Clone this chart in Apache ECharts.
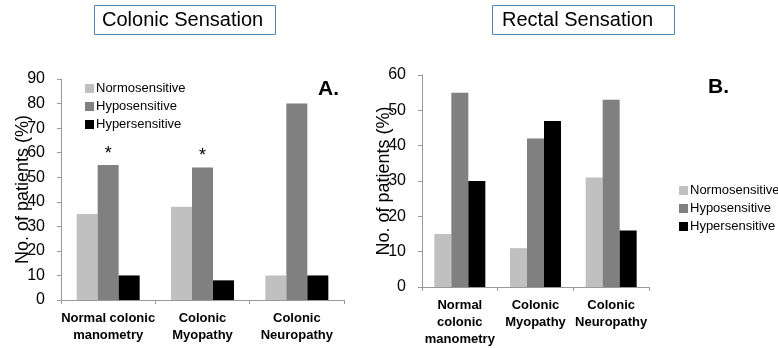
<!DOCTYPE html>
<html>
<head>
<meta charset="utf-8">
<script src="https://cdn.jsdelivr.net/npm/echarts@6/dist/echarts.min.js"></script>
<style>
  html, body { margin: 0; padding: 0; background: #fff; }
  #chart { width: 778px; height: 348px; }
</style>
</head>
<body>
<div id="chart"></div>
<script>
// data
const seriesNames = ['Normosensitive', 'Hyposensitive', 'Hypersensitive']
const colonicCats = ['Normal colonic\nmanometry', 'Colonic\nMyopathy', 'Colonic\nNeuropathy']
const rectalCats = ['Normal\ncolonic\nmanometry', 'Colonic\nMyopathy', 'Colonic\nNeuropathy']
const colonicNormo = [35, 38, 10]
const colonicHypo = [55, 54, 80]
const colonicHyper = [10, 8, 10]
const colonicStars = ['*', '*', '']
const rectalNormo = [15, 11, 31]
const rectalHypo = [55, 42, 53]
const rectalHyper = [30, 47, 16]

const colors = ['#c0c0c0', '#808080', '#000000']
const font = 'Liberation Sans, Arial, sans-serif'

const chart = echarts.init(document.getElementById('chart'))

const yAxisCommon = {
  type: 'value',
  name: 'No. of patients (%)',
  nameLocation: 'middle',
  nameRotate: 90,
  nameMoveOverlap: false,
  nameTextStyle: { fontSize: 18, color: '#000', fontFamily: font },
  axisLine: { show: true, lineStyle: { color: '#999' } },
  axisTick: { show: true, length: 4, lineStyle: { color: '#999' } },
  axisLabel: { fontSize: 16, color: '#000', fontFamily: font, margin: 16 },
  splitLine: { show: false }
}

const xAxisCommon = {
  type: 'category',
  axisLine: { lineStyle: { color: '#999' } },
  axisTick: { show: true, length: 4, lineStyle: { color: '#999' } },
  axisLabel: { fontSize: 13, fontWeight: 'bold', color: '#000', fontFamily: font, lineHeight: 17, margin: 10, interval: 0 }
}

const makeBar = (name, data, color, xi, width, extra) => Object.assign({
  name: name,
  type: 'bar',
  xAxisIndex: xi,
  yAxisIndex: xi,
  data: data,
  barWidth: width,
  barGap: 0,
  itemStyle: { color: color },
  silent: true
}, extra || {})

const option = {
  animation: false,
  title: [
    {
      text: 'Colonic Sensation',
      left: 94, top: 5,
      padding: [5, 13, 5, 8],
      borderColor: '#4f81bd', borderWidth: 1,
      textStyle: { fontSize: 20, fontWeight: 'normal', color: '#000', fontFamily: font }
    },
    {
      text: 'Rectal Sensation',
      left: 492, top: 5,
      padding: [5, 22, 5, 10],
      borderColor: '#4f81bd', borderWidth: 1,
      textStyle: { fontSize: 20, fontWeight: 'normal', color: '#000', fontFamily: font }
    },
    {
      text: 'A.',
      left: 313, top: 74,
      textStyle: { fontSize: 21, fontWeight: 'bold', color: '#000', fontFamily: font }
    },
    {
      text: 'B.',
      left: 703, top: 72,
      textStyle: { fontSize: 21, fontWeight: 'bold', color: '#000', fontFamily: font }
    }
  ],
  legend: [
    {
      data: seriesNames,
      orient: 'vertical',
      left: 80, top: 77,
      itemWidth: 9, itemHeight: 9, itemGap: 5, icon: 'rect',
      textStyle: { fontSize: 13, color: '#000', fontFamily: font, padding: [0, 0, 0, -3] }
    },
    {
      data: seriesNames,
      orient: 'vertical',
      left: 674, top: 179,
      itemWidth: 9, itemHeight: 9, itemGap: 5, icon: 'rect',
      textStyle: { fontSize: 13, color: '#000', fontFamily: font, padding: [0, 0, 0, -3] }
    }
  ],
  grid: [
    { left: 61, top: 79, right: 434, bottom: 48 },
    { left: 422, top: 75, right: 129, bottom: 55 }
  ],
  xAxis: [
    Object.assign({ gridIndex: 0, data: colonicCats }, xAxisCommon),
    Object.assign({ gridIndex: 1, data: rectalCats }, xAxisCommon)
  ],
  yAxis: [
    Object.assign({ gridIndex: 0, min: 0, max: 90, interval: 10, nameGap: 29 }, yAxisCommon),
    Object.assign({ gridIndex: 1, min: 0, max: 60, interval: 10, nameGap: 29 }, yAxisCommon)
  ],
  series: [
    makeBar(seriesNames[0], colonicNormo, colors[0], 0, 21),
    makeBar(seriesNames[1], colonicHypo, colors[1], 0, 21, {
      label: {
        show: true, position: 'top', distance: 2,
        fontSize: 18, color: '#000', fontFamily: font,
        formatter: p => colonicStars[p.dataIndex]
      }
    }),
    makeBar(seriesNames[2], colonicHyper, colors[2], 0, 21),
    makeBar(seriesNames[0], rectalNormo, colors[0], 1, 17),
    makeBar(seriesNames[1], rectalHypo, colors[1], 1, 17),
    makeBar(seriesNames[2], rectalHyper, colors[2], 1, 17)
  ]
}

chart.setOption(option)
</script>
</body>
</html>
